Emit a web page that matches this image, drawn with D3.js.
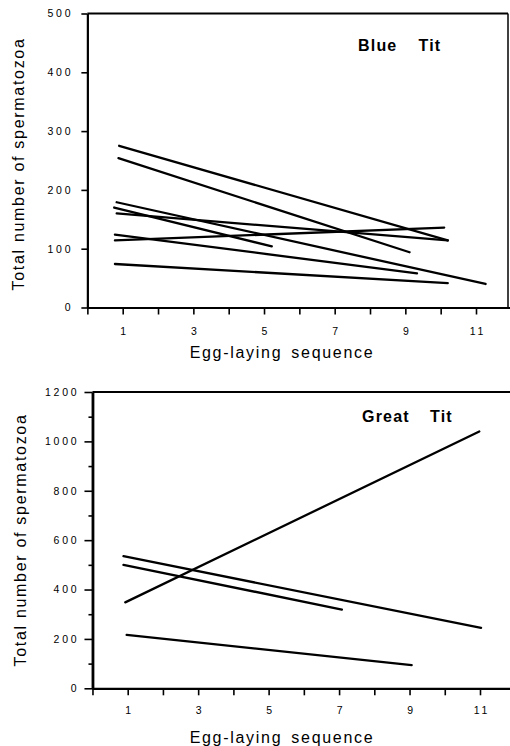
<!DOCTYPE html>
<html>
<head>
<meta charset="utf-8">
<script src="https://cdn.jsdelivr.net/npm/d3@7"></script>
<style>
  body { margin: 0; background: #fff; }
  svg { display: block; font-family: "Liberation Sans", Arial, Helvetica, sans-serif; }
  .tick text { font-size: 10.5px; letter-spacing: 2.8px; fill: #000; }
  .axis-title { font-size: 16px; letter-spacing: 1.7px; fill: #000; }
  .panel-label { font-size: 16px; font-weight: bold; letter-spacing: 1.2px; fill: #000; }
</style>
</head>
<body>
<svg id="chart" width="510" height="746"></svg>
<script>
// x positions: egg-laying sequence
const xLabelTicks = [1, 3, 5, 7, 9, 11];
const xMinorTicks = d3.range(0, 13);

// Blue Tit regression lines: [[startEgg, startCount], [endEgg, endCount]]
const blueTitLines = [
  [[0.90, 275], [10.20, 114]],
  [[0.88, 254], [9.12, 94]],
  [[0.83, 179], [11.27, 40]],
  [[0.76, 170], [5.22, 104]],
  [[0.83, 160], [10.20, 114]],
  [[0.78, 124], [9.33, 58]],
  [[0.78, 114], [10.10, 136]],
  [[0.78, 74], [10.20, 41.5]]
];
const blueYTicks = [0, 100, 200, 300, 400, 500];

// Great Tit regression lines
const greatTitLines = [
  [[0.93, 348], [10.98, 1040]],
  [[0.88, 535], [11.03, 245]],
  [[0.88, 500], [7.08, 319]],
  [[0.97, 216], [9.06, 94]]
];
const greatYTicks = [0, 200, 400, 600, 800, 1000, 1200];
const greatYMinor = [100, 300, 500, 700, 900, 1100];

const svg = d3.select('#chart');

function drawPanel(opts) {
  const { lines, yMax, yTicks, yMinor, xRange, yRange, label, labelPos,
          rightBorder, titleX, titleY, xTitleY, yLabelOffset, yTickSize } = opts;

  const x = d3.scaleLinear().domain([1, 11]).range(xRange);
  const y = d3.scaleLinear().domain([0, yMax]).range(yRange);
  const x0 = x(0);
  const g = svg.append('g');

  // frame: top border (and right border where visible)
  const right = rightBorder || 512;
  g.append('line')
    .attr('x1', x0).attr('x2', right)
    .attr('y1', y(yMax)).attr('y2', y(yMax))
    .attr('stroke', '#000').attr('stroke-width', 1.8);
  if (rightBorder) {
    g.append('line')
      .attr('x1', right).attr('x2', right)
      .attr('y1', y(yMax)).attr('y2', y(0))
      .attr('stroke', '#000').attr('stroke-width', 1.5);
  }

  // y axis
  const yAxis = g.append('g')
    .attr('transform', `translate(${x0},0)`)
    .call(d3.axisLeft(y).tickValues(yTicks).tickFormat(d3.format('d'))
      .tickSize(yTickSize).tickPadding(yLabelOffset).tickSizeOuter(0));
  if (yMinor) {
    g.append('g')
      .attr('transform', `translate(${x0},0)`)
      .call(d3.axisLeft(y).tickValues(yMinor).tickSize(4).tickFormat('').tickSizeOuter(0))
      .select('.domain').remove();
  }

  // x axis: all integer ticks, labels on odd numbers
  g.append('g')
    .attr('transform', `translate(0,${y(0)})`)
    .call(d3.axisBottom(x).tickValues(xMinorTicks).tickSize(7).tickFormat('').tickSizeOuter(0))
    .select('.domain').attr('d', `M${x0},0.5H${right + 2}`);
  const xAxis = g.append('g')
    .attr('transform', `translate(0,${y(0)})`)
    .call(d3.axisBottom(x).tickValues(xLabelTicks).tickFormat(d3.format('d'))
      .tickSize(0).tickPadding(opts.xLabelPad));
  xAxis.select('.domain').remove();
  xAxis.selectAll('.tick text').attr('dx', '1.4px');

  g.selectAll('.domain').attr('stroke', '#000').attr('stroke-width', 2.2);
  yAxis.select('.domain').attr('stroke-width', opts.yAxisWidth || 2.2);
  g.selectAll('.tick line').attr('stroke', '#000').attr('stroke-width', 1.6);

  // regression lines
  g.append('g')
    .selectAll('line')
    .data(lines)
    .join('line')
    .attr('x1', d => x(d[0][0]))
    .attr('y1', d => y(d[0][1]))
    .attr('x2', d => x(d[1][0]))
    .attr('y2', d => y(d[1][1]))
    .attr('stroke', '#000')
    .attr('stroke-width', 2.3)
    .attr('stroke-linecap', 'round');

  // axis titles
  g.append('text')
    .attr('class', 'axis-title')
    .attr('text-anchor', 'middle')
    .attr('transform', `translate(${titleX},${titleY}) rotate(-90)`)
    .text('Total number of spermatozoa');
  g.append('text')
    .attr('class', 'axis-title')
    .attr('text-anchor', 'middle')
    .attr('x', 282)
    .attr('y', xTitleY)
    .style('word-spacing', '3px')
    .text('Egg-laying sequence');

  // species label
  const t = g.append('text')
    .attr('class', 'panel-label')
    .attr('x', labelPos[0])
    .attr('y', labelPos[1]);
  t.append('tspan').text(label[0]);
  t.append('tspan').attr('x', labelPos[2]).text(label[1]);
}

drawPanel({
  lines: blueTitLines,
  yMax: 500,
  yTicks: blueYTicks,
  yMinor: null,
  xRange: [122.7, 476],
  yRange: [307.5, 13.5],
  label: ['Blue', 'Tit'],
  labelPos: [358, 51, 418.5],
  rightBorder: 508,
  titleX: 24,
  titleY: 164,
  xTitleY: 358,
  yLabelOffset: 8,
  yTickSize: 6,
  xLabelPad: 20.4
});

drawPanel({
  lines: greatTitLines,
  yMax: 1200,
  yTicks: greatYTicks,
  yMinor: greatYMinor,
  xRange: [127.7, 480],
  yRange: [688.3, 392],
  label: ['Great', 'Tit'],
  labelPos: [362, 422, 430],
  rightBorder: null,
  titleX: 26,
  titleY: 540,
  xTitleY: 743,
  yLabelOffset: 5,
  yTickSize: 8,
  xLabelPad: 18.6,
  yAxisWidth: 2.8
});
</script>
</body>
</html>
